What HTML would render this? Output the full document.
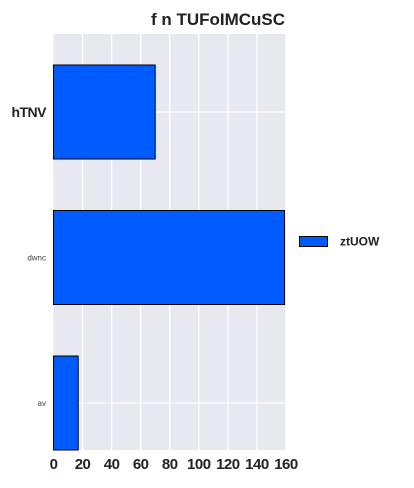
<!DOCTYPE html>
<html><head><meta charset="utf-8"><style>
body{margin:0;background:#fff;width:414px;height:483px;overflow:hidden}
svg{font-family:"Liberation Sans",sans-serif}
</style></head><body>
<svg id="c" width="414" height="483">
<text x="218" y="25" text-anchor="middle" font-size="17" font-weight="bold" fill="#222">f n TUFoIMCuSC</text>
<rect x="53.5" y="34" width="232.5" height="416" fill="#e8e8f0"/>
<g id="grid"></g><g id="bars"></g><g id="xt"></g><g id="yt"></g>
<g>
<rect x="299.5" y="236.5" width="28" height="10" fill="#005bff" stroke="#000" stroke-width="1"/>
<text x="340" y="245.5" font-size="12" font-weight="bold" fill="#222">ztUOW</text>
</g>
</svg>
<script>
const categories=["hTNV","dwnc","av"];
const values=[70,159,17];
const xTicks=[0,20,40,60,80,100,120,140,160];
const NS="http://www.w3.org/2000/svg";
const x0=53.5,sc=1.453;
function xs(v){return x0+v*sc;}
function yc(i){return 112+i*145.5;}
function mk(t,a,p){const e=document.createElementNS(NS,t);for(const k in a)e.setAttribute(k,a[k]);p.appendChild(e);return e;}
const grid=document.getElementById('grid'),bars=document.getElementById('bars'),xt=document.getElementById('xt'),yt=document.getElementById('yt');
xTicks.forEach(v=>{if(v>0){const l=mk('line',{x1:xs(v),x2:xs(v),y1:34,y2:450,stroke:'#fff','stroke-width':1.3},grid);

}
const t=mk('text',{x:xs(v),y:469,'text-anchor':'middle','font-size':15,'font-weight':'bold',fill:'#222','letter-spacing':'-0.5'},xt);t.textContent=v;

});
categories.forEach((c,i)=>{const l=mk('line',{x1:53.5,x2:286,y1:yc(i),y2:yc(i),stroke:'#fff','stroke-width':1.3},grid);


const b=mk('rect',{x:x0,y:yc(i)-47,width:xs(values[i])-x0,height:94,fill:'#005bff',stroke:'#000','stroke-width':1},bars);


const big=i===0;
const t=mk('text',{x:46,y:yc(i)+(big?5:3),'text-anchor':'end','font-size':big?14:8,'font-weight':big?'bold':'normal',fill:big?'#222':'#444','letter-spacing':big?'-0.5':'0'},yt);t.textContent=c;

});
</script>
</body></html>
